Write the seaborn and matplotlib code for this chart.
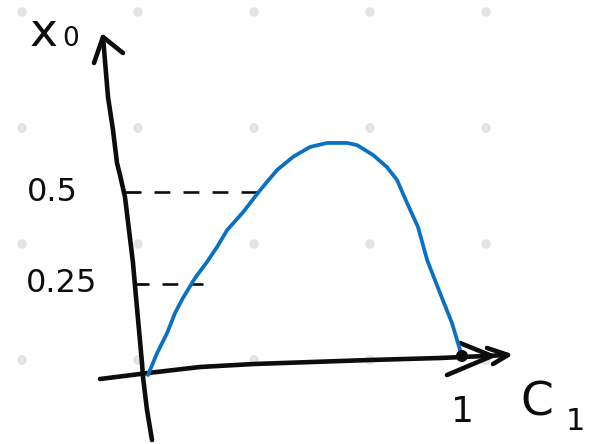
import numpy as np
import pandas as pd
import matplotlib
matplotlib.use("Agg")
import matplotlib.pyplot as plt
import seaborn as sns

# Sketched curve x0(c1)
c1 = [0.0, 0.029, 0.061, 0.086, 0.111, 0.150, 0.188, 0.220, 0.252, 0.303,
      0.357, 0.411, 0.462, 0.516, 0.570, 0.634, 0.666, 0.717, 0.761, 0.793,
      0.825, 0.860, 0.889, 0.930, 0.968, 0.994, 1.0]
x0 = [0.0, 0.060, 0.115, 0.169, 0.210, 0.265, 0.309, 0.350, 0.396, 0.445,
      0.505, 0.560, 0.596, 0.623, 0.634, 0.634, 0.628, 0.601, 0.568, 0.533,
      0.470, 0.404, 0.314, 0.224, 0.142, 0.068, 0.052]

# Marked levels on the x0 axis
level_values = [0.25, 0.5]
level_labels = ["0.25", "0.5"]
c1_end_label = "1"

W, H = 598, 444
BLUE = "#0a70c2"
INK = "#0d0d0d"

sns.set_theme(style="white")
plt.rcParams["font.family"] = ["DejaVu Sans"]

fig = plt.figure(figsize=(W / 100, H / 100), dpi=100)
fig.patch.set_facecolor("white")

# Sheet layer in page pixels: dotted paper and hand-drawn axes
sheet = fig.add_axes([0, 0, 1, 1])
sheet.set_xlim(0, W)
sheet.set_ylim(H, 0)
sheet.axis("off")

gx, gy = np.meshgrid(np.arange(22, W, 116), np.arange(12, H, 116))
sns.scatterplot(x=gx.ravel(), y=gy.ravel(), ax=sheet, s=48, color="#e4e4e4",
                edgecolor="none", legend=False, zorder=0)

stroke = dict(color=INK, lw=3.3, solid_capstyle="round", solid_joinstyle="round", zorder=3)
v_axis = np.array([(152, 440), (147, 410), (143, 377), (142, 363), (139, 330),
                   (136, 297), (133, 263), (129, 230), (125, 197), (120, 175),
                   (117, 163), (113, 130), (108, 97), (103, 37)])
v_head = np.array([(94, 63), (103, 37), (123, 53)])
h_axis = np.array([(100, 379), (148, 373), (200, 367), (254, 364), (370, 360),
                   (440, 358), (508, 355)])
h_head1 = np.array([(460, 343), (492, 356), (447, 375)])
h_head2 = np.array([(487, 348), (508, 355), (493, 364)])
for path in (v_axis, v_head, h_axis, h_head1, h_head2):
    sheet.plot(path[:, 0], path[:, 1], **stroke)

# Axis names
sheet.text(44, 46, "x", fontsize=34, color=INK, ha="center", va="baseline", zorder=4)
sheet.text(71, 46, "0", fontsize=19, color=INK, ha="center", va="baseline", zorder=4)
sheet.text(537, 415, "C", fontsize=34, color=INK, ha="center", va="baseline", zorder=4)
sheet.text(575, 430, "1", fontsize=22, color=INK, ha="center", va="baseline", zorder=4)

# Data layer: c1 on x, x0 on y, aligned with the sheet
ax = fig.add_axes([0, 0, 1, 1])
ax.patch.set_alpha(0)
ax.set_xlim(-148 / 314, (W - 148) / 314)
ax.set_ylim(-(H - 375) / 366, 375 / 366)
ax.axis("off")

df = pd.DataFrame({"c1": c1, "x0": x0})
line = sns.lineplot(data=df, x="c1", y="x0", sort=False, estimator=None, ax=ax,
                    color=BLUE, lw=2.7, zorder=5)
for ln in ax.lines:
    ln.set_solid_joinstyle("round")
    ln.set_solid_capstyle("round")
sns.scatterplot(x=[c1[-1]], y=[x0[-1]], ax=ax, s=75, color=INK,
                edgecolor="none", legend=False, zorder=6)

# Dashed guides from the x0 axis to the curve at the marked levels
peak = int(np.argmax(x0))
rise_c1, rise_x0 = np.array(c1[:peak + 1]), np.array(x0[:peak + 1])
for val, lab, start, lx in zip(level_values, level_labels, [-0.045, -0.07], [-0.274, -0.306]):
    hit = np.interp(val, rise_x0, rise_c1)
    ax.plot([start, start + 0.045], [val, val], color=INK, lw=2.0, zorder=4,
            solid_capstyle="round")
    ax.plot([start + 0.09, hit + 0.035], [val, val], color=INK, lw=1.9,
            dashes=(6, 5), zorder=4)
    ax.text(lx, val, lab, fontsize=23, color=INK, ha="center", va="center", zorder=4)

ax.text(1.0, -0.10, c1_end_label, fontsize=26, color=INK, ha="center", va="center", zorder=4)

fig.savefig("out.png", dpi=100)
